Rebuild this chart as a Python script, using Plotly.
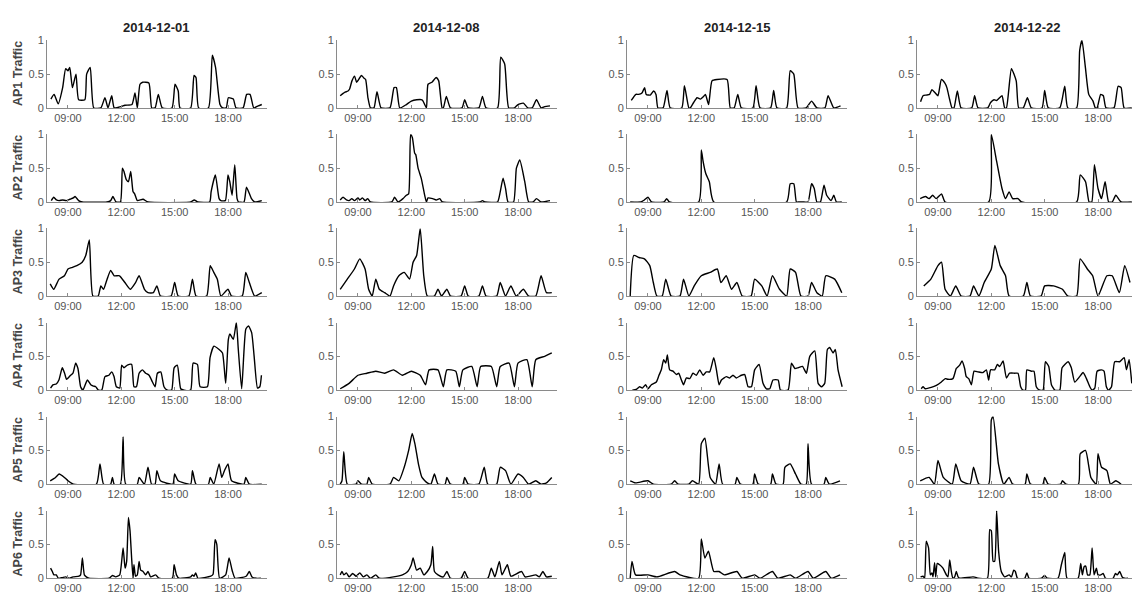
import plotly.graph_objects as go

DATES = ["2014-12-01", "2014-12-08", "2014-12-15", "2014-12-22"]
APS = ["AP1 Traffic", "AP2 Traffic", "AP3 Traffic", "AP4 Traffic", "AP5 Traffic", "AP6 Traffic"]
TICK_HOURS = [9, 12, 15, 18]
TICK_LABELS = ["09:00", "12:00", "15:00", "18:00"]
Y_TICKS = [0, 0.5, 1]
Y_TICK_LABELS = ["0", "0.5", "1"]

# ---- AP1 ----
AP1_1201_T = [8.04, 8.22, 8.45, 8.7, 8.87, 9.0, 9.1, 9.25, 9.45, 9.6, 9.95, 10.05, 10.25, 10.45, 10.85, 11.08, 11.25, 11.46, 11.6, 12.0, 12.2, 12.6, 12.77, 12.9, 13.05, 13.2, 13.55, 13.71, 13.9, 14.08, 14.3, 14.85, 15.02, 15.2, 15.3, 15.9, 16.09, 16.2, 16.35, 16.9, 17.12, 17.3, 17.55, 17.7, 17.9, 18.02, 18.3, 18.45, 18.85, 19.05, 19.24, 19.45, 19.7, 19.9]
AP1_1201_V = [0.13, 0.20, 0.06, 0.3, 0.58, 0.55, 0.6, 0.3, 0.5, 0.12, 0.12, 0.5, 0.6, 0.0, 0.0, 0.15, 0.0, 0.18, 0.0, 0.02, 0.04, 0.05, 0.22, 0.0, 0.35, 0.38, 0.37, 0.0, 0.0, 0.2, 0.0, 0.0, 0.35, 0.25, 0.0, 0.0, 0.48, 0.45, 0.0, 0.0, 0.78, 0.6, 0.05, 0.0, 0.0, 0.15, 0.13, 0.0, 0.0, 0.2, 0.2, 0.0, 0.03, 0.05]
AP1_1208_T = [8.0, 8.25, 8.44, 8.53, 8.66, 8.81, 8.92, 9.06, 9.19, 9.34, 9.43, 9.56, 9.7, 9.9, 10.07, 10.3, 10.8, 11.03, 11.16, 11.35, 11.72, 12.0, 12.3, 12.6, 12.66, 12.85, 12.94, 13.16, 13.4, 13.54, 13.73, 13.8, 13.97, 14.2, 14.85, 15.0, 15.2, 15.8, 16.0, 16.2, 16.85, 17.03, 17.25, 17.48, 17.8, 18.0, 18.3, 18.55, 18.8, 19.04, 19.3, 19.5, 19.8]
AP1_1208_V = [0.18, 0.23, 0.25, 0.28, 0.4, 0.47, 0.38, 0.43, 0.48, 0.44, 0.42, 0.15, 0.0, 0.0, 0.24, 0.0, 0.0, 0.3, 0.3, 0.0, 0.05, 0.1, 0.12, 0.12, 0.1, 0.0, 0.35, 0.38, 0.45, 0.4, 0.0, 0.0, 0.17, 0.0, 0.0, 0.12, 0.0, 0.0, 0.17, 0.0, 0.0, 0.75, 0.65, 0.0, 0.0, 0.05, 0.07, 0.0, 0.0, 0.12, 0.0, 0.02, 0.03]
AP1_1215_T = [8.06, 8.32, 8.47, 8.66, 8.81, 8.9, 9.13, 9.32, 9.45, 9.56, 9.85, 10.07, 10.25, 10.9, 11.05, 11.3, 11.38, 11.57, 11.76, 11.95, 12.13, 12.23, 12.41, 12.6, 12.88, 13.45, 13.63, 13.85, 14.05, 14.25, 14.9, 15.08, 15.3, 15.9, 16.07, 16.25, 16.8, 17.0, 17.2, 17.44, 17.9, 18.2, 18.5, 18.95, 19.13, 19.45, 19.83]
AP1_1215_V = [0.11, 0.2, 0.2, 0.22, 0.3, 0.2, 0.19, 0.25, 0.2, 0.0, 0.0, 0.26, 0.0, 0.0, 0.33, 0.0, 0.0, 0.08, 0.15, 0.13, 0.17, 0.2, 0.05, 0.4, 0.42, 0.42, 0.0, 0.0, 0.2, 0.0, 0.0, 0.33, 0.0, 0.0, 0.26, 0.0, 0.0, 0.55, 0.5, 0.0, 0.0, 0.1, 0.0, 0.0, 0.18, 0.0, 0.03]
AP1_1222_T = [8.02, 8.16, 8.34, 8.53, 8.66, 8.85, 9.0, 9.19, 9.38, 9.5, 9.66, 9.79, 9.9, 10.09, 10.3, 10.9, 11.06, 11.25, 11.8, 11.96, 12.15, 12.3, 12.6, 12.75, 12.85, 13.13, 13.4, 13.54, 13.8, 14.03, 14.25, 14.85, 15.0, 15.2, 15.85, 16.13, 16.3, 16.8, 16.97, 17.1, 17.29, 17.48, 17.72, 17.85, 17.95, 18.15, 18.3, 18.45, 18.9, 19.13, 19.3, 19.47, 19.9]
AP1_1222_V = [0.09, 0.18, 0.19, 0.2, 0.27, 0.22, 0.18, 0.42, 0.37, 0.3, 0.12, 0.0, 0.0, 0.25, 0.0, 0.0, 0.18, 0.0, 0.0, 0.08, 0.12, 0.11, 0.18, 0.0, 0.0, 0.58, 0.4, 0.0, 0.0, 0.15, 0.0, 0.0, 0.26, 0.0, 0.0, 0.32, 0.0, 0.0, 0.85, 1.0, 0.6, 0.2, 0.1, 0.0, 0.0, 0.2, 0.18, 0.0, 0.0, 0.32, 0.3, 0.0, 0.0]

# ---- AP2 ----
AP2_1201_T = [8.06, 8.2, 8.35, 8.5, 8.7, 8.9, 9.1, 9.3, 9.4, 9.6, 9.8, 11.2, 11.4, 11.53, 11.7, 11.95, 12.06, 12.15, 12.28, 12.4, 12.53, 12.66, 12.75, 12.9, 13.22, 13.5, 15.9, 16.1, 16.3, 16.97, 17.05, 17.29, 17.5, 17.6, 17.85, 18.0, 18.1, 18.23, 18.38, 18.51, 18.6, 18.9, 19.04, 19.32, 19.5, 19.9]
AP2_1201_V = [0.02, 0.07, 0.03, 0.02, 0.03, 0.02, 0.04, 0.06, 0.08, 0.02, 0.0, 0.0, 0.02, 0.08, 0.0, 0.0, 0.5, 0.45, 0.33, 0.3, 0.45, 0.15, 0.12, 0.02, 0.04, 0.0, 0.0, 0.03, 0.0, 0.0, 0.15, 0.4, 0.05, 0.02, 0.02, 0.4, 0.3, 0.1, 0.55, 0.05, 0.0, 0.0, 0.22, 0.05, 0.0, 0.02]
AP2_1208_T = [8.0, 8.16, 8.35, 8.5, 8.65, 8.8, 9.0, 9.1, 9.25, 9.4, 9.55, 9.7, 10.9, 11.06, 11.25, 11.53, 11.72, 11.85, 11.96, 12.06, 12.19, 12.25, 12.38, 12.56, 12.75, 12.85, 12.94, 13.2, 13.4, 13.6, 13.75, 15.85, 16.0, 16.15, 16.85, 17.0, 17.16, 17.3, 17.44, 17.75, 17.91, 18.1, 18.38, 18.6, 18.85, 19.04, 19.3, 19.8]
AP2_1208_V = [0.03, 0.07, 0.03, 0.02, 0.05, 0.02, 0.06, 0.03, 0.06, 0.02, 0.05, 0.0, 0.0, 0.07, 0.0, 0.05, 0.1, 0.12, 1.0, 0.95, 0.72, 0.7, 0.5, 0.35, 0.1, 0.0, 0.06, 0.05, 0.03, 0.05, 0.0, 0.0, 0.02, 0.0, 0.0, 0.15, 0.35, 0.2, 0.0, 0.0, 0.5, 0.62, 0.3, 0.0, 0.0, 0.05, 0.0, 0.02]
AP2_1215_T = [8.0, 8.6, 8.8, 9.0, 9.2, 9.9, 10.05, 10.2, 11.85, 12.0, 12.1, 12.25, 12.45, 12.7, 16.8, 17.0, 17.2, 17.35, 17.5, 17.7, 18.0, 18.2, 18.35, 18.5, 18.7, 18.9, 19.05, 19.3, 19.45, 19.6, 19.9]
AP2_1215_V = [0.0, 0.0, 0.03, 0.07, 0.0, 0.0, 0.05, 0.0, 0.0, 0.77, 0.6, 0.42, 0.3, 0.0, 0.0, 0.27, 0.27, 0.0, 0.0, 0.0, 0.0, 0.27, 0.2, 0.0, 0.0, 0.25, 0.1, 0.02, 0.1, 0.0, 0.0]
AP2_1222_T = [8.0, 8.3, 8.5, 8.7, 8.9, 9.2, 9.4, 11.85, 12.0, 12.3, 12.6, 12.8, 13.0, 13.2, 13.5, 13.7, 16.8, 17.0, 17.3, 17.5, 17.65, 17.8, 18.0, 18.2, 18.4, 18.6, 18.8, 19.0, 19.3, 19.9]
AP2_1222_V = [0.05, 0.08, 0.05, 0.1, 0.05, 0.12, 0.0, 0.0, 1.0, 0.6, 0.2, 0.05, 0.15, 0.05, 0.05, 0.0, 0.0, 0.4, 0.3, 0.0, 0.0, 0.55, 0.2, 0.05, 0.3, 0.0, 0.0, 0.1, 0.0, 0.0]

# ---- AP3 ----
AP3_1201_T = [8.0, 8.2, 8.5, 8.8, 9.0, 9.2, 9.5, 9.8, 10.0, 10.2, 10.4, 10.7, 10.85, 11.0, 11.2, 11.4, 11.6, 11.9, 12.2, 12.5, 12.8, 13.0, 13.3, 13.5, 13.8, 14.0, 14.2, 14.8, 15.0, 15.2, 15.8, 16.0, 16.2, 16.8, 17.0, 17.2, 17.4, 17.6, 18.0, 18.2, 18.8, 19.0, 19.2, 19.5, 19.9]
AP3_1201_V = [0.18, 0.1, 0.25, 0.3, 0.4, 0.42, 0.45, 0.5, 0.6, 0.83, 0.0, 0.0, 0.15, 0.1, 0.25, 0.38, 0.3, 0.3, 0.2, 0.1, 0.2, 0.3, 0.1, 0.05, 0.05, 0.15, 0.0, 0.0, 0.2, 0.0, 0.0, 0.25, 0.0, 0.0, 0.45, 0.35, 0.25, 0.0, 0.1, 0.0, 0.0, 0.35, 0.2, 0.0, 0.05]
AP3_1208_T = [8.0, 8.4, 8.8, 9.1, 9.4, 9.6, 9.8, 10.0, 10.2, 10.5, 10.8, 11.0, 11.3, 11.6, 11.9, 12.1, 12.3, 12.5, 12.7, 12.9, 13.3, 13.5, 13.7, 14.0, 14.2, 14.8, 15.0, 15.2, 15.8, 16.0, 16.2, 16.8, 17.0, 17.3, 17.6, 17.9, 18.3, 18.6, 19.0, 19.3, 19.6, 19.9]
AP3_1208_V = [0.1, 0.25, 0.4, 0.55, 0.4, 0.1, 0.0, 0.25, 0.1, 0.05, 0.0, 0.15, 0.3, 0.35, 0.25, 0.5, 0.6, 1.0, 0.3, 0.0, 0.0, 0.1, 0.0, 0.1, 0.0, 0.0, 0.15, 0.0, 0.0, 0.15, 0.0, 0.0, 0.2, 0.0, 0.15, 0.0, 0.1, 0.0, 0.0, 0.3, 0.05, 0.05]
AP3_1215_T = [8.0, 8.2, 8.5, 8.8, 9.1, 9.3, 9.5, 9.8, 10.0, 10.3, 10.8, 11.0, 11.3, 11.6, 12.0, 12.5, 12.9, 13.1, 13.4, 13.7, 14.0, 14.3, 14.8, 15.0, 15.4, 15.7, 16.0, 16.4, 16.8, 17.0, 17.3, 17.6, 18.0, 18.2, 18.5, 18.8, 19.0, 19.5, 19.9]
AP3_1215_V = [0.0, 0.6, 0.57, 0.55, 0.45, 0.2, 0.0, 0.0, 0.25, 0.0, 0.0, 0.25, 0.0, 0.15, 0.3, 0.35, 0.4, 0.2, 0.3, 0.1, 0.2, 0.0, 0.0, 0.25, 0.15, 0.0, 0.3, 0.1, 0.0, 0.4, 0.35, 0.0, 0.0, 0.2, 0.05, 0.0, 0.3, 0.25, 0.05]
AP3_1222_T = [8.2, 8.6, 9.0, 9.2, 9.4, 9.7, 10.0, 10.3, 10.8, 11.0, 11.3, 11.6, 12.0, 12.2, 12.5, 12.8, 13.0, 13.8, 14.0, 14.2, 14.8, 15.0, 15.5, 16.0, 16.3, 16.8, 17.0, 17.4, 17.7, 18.0, 18.5, 18.8, 19.2, 19.5, 19.8]
AP3_1222_V = [0.15, 0.25, 0.45, 0.5, 0.1, 0.0, 0.15, 0.0, 0.0, 0.15, 0.0, 0.2, 0.4, 0.75, 0.45, 0.3, 0.0, 0.0, 0.2, 0.0, 0.0, 0.15, 0.15, 0.1, 0.0, 0.0, 0.55, 0.4, 0.3, 0.0, 0.3, 0.3, 0.05, 0.45, 0.2]

# ---- AP4 ----
AP4_1201_T = [8.02, 8.17, 8.34, 8.49, 8.68, 8.81, 8.92, 9.15, 9.28, 9.43, 9.56, 9.71, 9.84, 10.09, 10.28, 10.43, 10.56, 10.71, 10.9, 11.08, 11.3, 11.46, 11.59, 11.72, 11.91, 12.02, 12.15, 12.34, 12.58, 12.71, 12.85, 13.0, 13.18, 13.37, 13.56, 13.75, 13.9, 14.03, 14.22, 14.4, 14.59, 14.83, 14.97, 15.15, 15.34, 15.53, 15.9, 16.04, 16.28, 16.43, 16.84, 16.99, 17.21, 17.5, 17.69, 17.87, 18.02, 18.11, 18.3, 18.47, 18.58, 18.77, 19.0, 19.15, 19.33, 19.47, 19.66, 19.79, 19.88]
AP4_1201_V = [0.03, 0.08, 0.09, 0.15, 0.33, 0.25, 0.16, 0.22, 0.25, 0.4, 0.32, 0.05, 0.0, 0.15, 0.08, 0.06, 0.05, 0.0, 0.0, 0.2, 0.22, 0.27, 0.2, 0.05, 0.03, 0.37, 0.33, 0.37, 0.38, 0.05, 0.05, 0.25, 0.3, 0.25, 0.22, 0.12, 0.05, 0.25, 0.27, 0.05, 0.0, 0.0, 0.33, 0.37, 0.02, 0.0, 0.0, 0.4, 0.38, 0.05, 0.05, 0.48, 0.65, 0.6, 0.55, 0.1, 0.75, 0.83, 0.75, 1.0, 0.6, 0.02, 0.9, 0.95, 0.85, 0.5, 0.03, 0.05, 0.22]
AP4_1208_T = [8.0, 8.5, 9.0, 9.5, 10.0, 10.5, 11.0, 11.5, 12.0, 12.5, 12.8, 13.0, 13.5, 13.8, 14.0, 14.5, 14.7, 14.9, 15.4, 15.7, 15.9, 16.5, 16.8, 17.0, 17.5, 17.8, 18.0, 18.5, 18.8, 19.0, 19.5, 19.9]
AP4_1208_V = [0.02, 0.1, 0.22, 0.25, 0.28, 0.25, 0.3, 0.22, 0.28, 0.22, 0.08, 0.3, 0.3, 0.05, 0.3, 0.28, 0.05, 0.3, 0.35, 0.05, 0.35, 0.35, 0.05, 0.35, 0.4, 0.05, 0.4, 0.45, 0.05, 0.45, 0.5, 0.55]
AP4_1215_T = [8.12, 8.34, 8.53, 8.68, 8.87, 9.0, 9.19, 9.47, 9.62, 9.75, 9.88, 10.0, 10.09, 10.22, 10.41, 10.6, 10.73, 10.88, 11.0, 11.16, 11.35, 11.53, 11.72, 11.91, 12.1, 12.28, 12.47, 12.7, 12.85, 13.0, 13.13, 13.41, 13.6, 13.78, 13.97, 14.25, 14.44, 14.63, 14.82, 15.0, 15.25, 15.47, 15.66, 15.85, 16.03, 16.32, 16.45, 16.88, 17.07, 17.26, 17.44, 17.69, 17.91, 18.1, 18.38, 18.57, 18.76, 18.94, 19.09, 19.22, 19.41, 19.54, 19.69, 19.92]
AP4_1215_V = [0.0, 0.01, 0.05, 0.03, 0.08, 0.02, 0.08, 0.12, 0.22, 0.3, 0.45, 0.4, 0.52, 0.3, 0.28, 0.23, 0.25, 0.15, 0.08, 0.18, 0.17, 0.25, 0.22, 0.3, 0.22, 0.27, 0.27, 0.48, 0.3, 0.08, 0.15, 0.2, 0.18, 0.22, 0.18, 0.22, 0.23, 0.05, 0.05, 0.3, 0.38, 0.1, 0.02, 0.02, 0.15, 0.15, 0.0, 0.0, 0.4, 0.32, 0.33, 0.35, 0.25, 0.5, 0.58, 0.1, 0.05, 0.1, 0.6, 0.63, 0.55, 0.6, 0.3, 0.05]
AP4_1222_T = [8.06, 8.16, 8.29, 8.62, 8.91, 9.19, 9.41, 9.56, 9.84, 10.03, 10.22, 10.35, 10.5, 10.59, 10.73, 10.88, 11.03, 11.25, 11.53, 11.72, 11.85, 11.96, 12.19, 12.34, 12.47, 12.66, 12.85, 13.03, 13.32, 13.5, 13.65, 13.78, 13.92, 14.0, 14.25, 14.4, 14.53, 14.72, 14.91, 15.04, 15.23, 15.38, 15.57, 15.85, 15.98, 16.32, 16.5, 16.69, 16.97, 17.16, 17.35, 17.54, 17.67, 17.82, 17.95, 18.19, 18.34, 18.47, 18.6, 18.76, 18.94, 19.22, 19.47, 19.6, 19.75, 19.9]
AP4_1222_V = [0.02, 0.05, 0.02, 0.04, 0.07, 0.12, 0.17, 0.16, 0.17, 0.32, 0.37, 0.43, 0.32, 0.2, 0.17, 0.08, 0.28, 0.27, 0.26, 0.3, 0.15, 0.3, 0.3, 0.38, 0.35, 0.43, 0.18, 0.25, 0.25, 0.25, 0.05, 0.0, 0.0, 0.3, 0.28, 0.28, 0.05, 0.0, 0.0, 0.42, 0.35, 0.08, 0.0, 0.0, 0.33, 0.42, 0.33, 0.12, 0.2, 0.26, 0.17, 0.05, 0.0, 0.03, 0.28, 0.3, 0.28, 0.05, 0.0, 0.05, 0.42, 0.42, 0.48, 0.3, 0.45, 0.1]

# ---- AP5 ----
AP5_1201_T = [8.0, 8.3, 8.5, 8.8, 9.0, 9.3, 10.6, 10.8, 11.0, 11.4, 11.5, 11.6, 11.95, 12.1, 12.25, 12.9, 13.0, 13.3, 13.5, 13.7, 13.9, 14.0, 14.2, 14.9, 15.0, 15.2, 15.9, 16.0, 16.2, 16.9, 17.0, 17.2, 17.5, 17.65, 17.8, 18.0, 18.2, 18.9, 19.0, 19.2, 19.9]
AP5_1201_V = [0.05, 0.1, 0.15, 0.1, 0.05, 0.0, 0.0, 0.3, 0.0, 0.0, 0.1, 0.0, 0.0, 0.7, 0.0, 0.0, 0.1, 0.0, 0.25, 0.0, 0.0, 0.2, 0.05, 0.0, 0.15, 0.05, 0.0, 0.2, 0.0, 0.0, 0.1, 0.0, 0.3, 0.1, 0.2, 0.3, 0.05, 0.0, 0.1, 0.0, 0.0]
AP5_1208_T = [8.0, 8.1, 8.2, 8.4, 8.9, 9.0, 9.2, 9.5, 9.6, 9.8, 10.8, 11.0, 11.3, 11.6, 11.85, 12.05, 12.2, 12.4, 12.6, 12.9, 13.1, 13.3, 13.5, 13.9, 14.0, 14.2, 14.9, 15.0, 15.2, 15.8, 16.1, 16.3, 16.8, 17.0, 17.3, 17.6, 18.0, 18.3, 18.6, 19.0, 19.3, 19.6, 19.9]
AP5_1208_V = [0.0, 0.05, 0.48, 0.0, 0.0, 0.05, 0.0, 0.0, 0.1, 0.0, 0.0, 0.1, 0.05, 0.25, 0.5, 0.75, 0.6, 0.3, 0.1, 0.02, 0.0, 0.15, 0.0, 0.0, 0.1, 0.0, 0.0, 0.1, 0.0, 0.0, 0.25, 0.0, 0.0, 0.25, 0.2, 0.0, 0.15, 0.1, 0.0, 0.05, 0.0, 0.02, 0.1]
AP5_1215_T = [8.0, 8.3, 9.0, 9.3, 10.3, 10.5, 10.7, 11.3, 11.5, 11.85, 12.0, 12.2, 12.5, 12.8, 13.0, 13.2, 13.9, 14.0, 14.2, 14.9, 15.0, 15.2, 15.9, 16.0, 16.2, 16.6, 16.7, 17.0, 17.3, 17.6, 17.9, 18.0, 18.2, 18.9, 19.0, 19.2, 19.8]
AP5_1215_V = [0.05, 0.02, 0.05, 0.0, 0.0, 0.05, 0.0, 0.0, 0.05, 0.0, 0.6, 0.68, 0.1, 0.0, 0.3, 0.0, 0.0, 0.1, 0.0, 0.0, 0.15, 0.0, 0.0, 0.15, 0.0, 0.0, 0.25, 0.3, 0.15, 0.0, 0.0, 0.6, 0.0, 0.0, 0.1, 0.0, 0.05]
AP5_1222_T = [8.0, 8.5, 8.8, 9.0, 9.3, 9.8, 10.0, 10.3, 10.8, 11.0, 11.3, 11.85, 12.0, 12.1, 12.4, 12.7, 13.0, 13.2, 13.9, 14.0, 14.2, 14.9, 15.0, 15.2, 15.9, 16.0, 16.2, 16.9, 17.0, 17.3, 17.6, 17.9, 18.0, 18.2, 18.5, 18.7, 19.0, 19.3]
AP5_1222_V = [0.05, 0.1, 0.0, 0.35, 0.1, 0.0, 0.3, 0.05, 0.0, 0.25, 0.0, 0.0, 0.95, 1.0, 0.3, 0.0, 0.1, 0.0, 0.0, 0.15, 0.0, 0.0, 0.1, 0.0, 0.0, 0.05, 0.0, 0.0, 0.45, 0.5, 0.1, 0.0, 0.45, 0.25, 0.2, 0.0, 0.05, 0.0]

# ---- AP6 ----
AP6_1201_T = [8.02, 8.12, 8.21, 8.34, 8.46, 8.68, 8.87, 9.09, 9.28, 9.62, 9.71, 9.81, 9.92, 10.03, 10.18, 11.31, 11.5, 11.68, 11.91, 12.1, 12.21, 12.3, 12.4, 12.49, 12.58, 12.66, 12.71, 12.8, 12.9, 13.0, 13.09, 13.22, 13.37, 13.5, 13.65, 13.93, 14.12, 14.87, 14.97, 15.1, 15.24, 15.9, 16.0, 16.09, 16.18, 16.31, 17.03, 17.16, 17.27, 17.37, 17.53, 17.87, 18.06, 18.25, 18.4, 19.02, 19.2, 19.35, 19.57, 19.85]
AP6_1201_V = [0.15, 0.1, 0.05, 0.05, 0.0, 0.01, 0.02, 0.0, 0.02, 0.03, 0.05, 0.3, 0.05, 0.02, 0.0, 0.0, 0.04, 0.02, 0.05, 0.45, 0.15, 0.25, 0.9, 0.7, 0.3, 0.0, 0.2, 0.03, 0.05, 0.25, 0.12, 0.1, 0.05, 0.1, 0.02, 0.05, 0.0, 0.0, 0.2, 0.05, 0.0, 0.02, 0.05, 0.03, 0.08, 0.0, 0.03, 0.06, 0.57, 0.5, 0.0, 0.05, 0.3, 0.1, 0.0, 0.03, 0.1, 0.02, 0.0, 0.0]
AP6_1208_T = [8.0, 8.1, 8.2, 8.35, 8.5, 8.7, 8.9, 9.1, 9.3, 9.5, 9.7, 10.0, 10.2, 11.0, 11.5, 11.8, 12.0, 12.1, 12.3, 12.5, 12.7, 12.9, 13.1, 13.2, 13.3, 13.5, 13.8, 14.0, 14.2, 14.8, 15.0, 15.2, 16.3, 16.5, 16.7, 16.95, 17.1, 17.4, 17.6, 18.2, 18.4, 19.0, 19.2, 19.4, 19.6, 19.9]
AP6_1208_V = [0.05, 0.1, 0.05, 0.08, 0.02, 0.07, 0.03, 0.08, 0.02, 0.05, 0.0, 0.05, 0.0, 0.02, 0.05, 0.1, 0.2, 0.3, 0.12, 0.15, 0.05, 0.1, 0.2, 0.47, 0.1, 0.05, 0.02, 0.1, 0.0, 0.0, 0.1, 0.0, 0.0, 0.15, 0.02, 0.25, 0.05, 0.2, 0.03, 0.1, 0.02, 0.05, 0.02, 0.1, 0.02, 0.03]
AP6_1215_T = [8.0, 8.1, 8.3, 9.0, 9.5, 10.5, 10.8, 11.85, 12.0, 12.2, 12.4, 12.7, 13.0, 13.3, 14.0, 14.3, 15.0, 15.3, 16.0, 16.3, 17.0, 17.3, 18.0, 18.3, 19.0, 19.3, 19.8]
AP6_1215_V = [0.0, 0.25, 0.05, 0.05, 0.02, 0.1, 0.05, 0.0, 0.58, 0.3, 0.4, 0.1, 0.1, 0.05, 0.1, 0.0, 0.05, 0.0, 0.1, 0.0, 0.05, 0.0, 0.1, 0.0, 0.1, 0.0, 0.05]
AP6_1222_T = [8.02, 8.16, 8.25, 8.34, 8.47, 8.57, 8.66, 8.72, 8.81, 8.87, 8.96, 9.09, 9.28, 9.47, 9.56, 9.66, 9.75, 9.84, 9.94, 10.03, 10.13, 10.22, 10.97, 11.16, 11.25, 11.78, 11.91, 12.0, 12.1, 12.19, 12.3, 12.41, 12.56, 12.75, 13.0, 13.13, 13.26, 13.35, 13.47, 13.88, 14.0, 14.12, 14.82, 15.0, 15.15, 15.75, 15.94, 16.13, 16.26, 16.88, 17.03, 17.12, 17.22, 17.31, 17.41, 17.54, 17.67, 17.78, 17.91, 18.0, 18.16, 18.29, 18.42, 18.85, 18.98, 19.09, 19.22, 19.36, 19.5, 19.69]
AP6_1222_V = [0.02, 0.03, 0.0, 0.55, 0.45, 0.05, 0.08, 0.02, 0.23, 0.02, 0.22, 0.2, 0.15, 0.05, 0.02, 0.27, 0.1, 0.0, 0.02, 0.1, 0.02, 0.0, 0.02, 0.01, 0.0, 0.0, 0.72, 0.7, 0.25, 0.25, 1.0, 0.4, 0.1, 0.02, 0.05, 0.02, 0.12, 0.1, 0.0, 0.0, 0.08, 0.0, 0.0, 0.04, 0.0, 0.0, 0.2, 0.38, 0.0, 0.0, 0.22, 0.05, 0.17, 0.18, 0.05, 0.05, 0.45, 0.05, 0.15, 0.05, 0.05, 0.07, 0.0, 0.0, 0.07, 0.05, 0.1, 0.02, 0.0, 0.0]

SERIES = [
    [(AP1_1201_T, AP1_1201_V), (AP1_1208_T, AP1_1208_V), (AP1_1215_T, AP1_1215_V), (AP1_1222_T, AP1_1222_V)],
    [(AP2_1201_T, AP2_1201_V), (AP2_1208_T, AP2_1208_V), (AP2_1215_T, AP2_1215_V), (AP2_1222_T, AP2_1222_V)],
    [(AP3_1201_T, AP3_1201_V), (AP3_1208_T, AP3_1208_V), (AP3_1215_T, AP3_1215_V), (AP3_1222_T, AP3_1222_V)],
    [(AP4_1201_T, AP4_1201_V), (AP4_1208_T, AP4_1208_V), (AP4_1215_T, AP4_1215_V), (AP4_1222_T, AP4_1222_V)],
    [(AP5_1201_T, AP5_1201_V), (AP5_1208_T, AP5_1208_V), (AP5_1215_T, AP5_1215_V), (AP5_1222_T, AP5_1222_V)],
    [(AP6_1201_T, AP6_1201_V), (AP6_1208_T, AP6_1208_V), (AP6_1215_T, AP6_1215_V), (AP6_1222_T, AP6_1222_V)],
]

W, H = 1132, 597
COL_X0 = [47, 337, 627, 917]
PLOT_W = 220
PX_PER_HOUR = 17.78
X_START = 7.82
ROW_TOP = [35 + 96 * r for r in range(6)]
PLOT_H = 69

FONT = "Liberation Sans, Arial, Helvetica, sans-serif"
AXIS_COLOR = "#8a8a8a"
LABEL_COLOR = "#555555"

fig = go.Figure()
layout = dict(
    width=W, height=H, margin=dict(l=0, r=0, t=0, b=0),
    paper_bgcolor="white", plot_bgcolor="white", showlegend=False,
    font=dict(family=FONT, size=11, color=LABEL_COLOR),
)
annotations = []
k = 0
for r in range(6):
    for c in range(4):
        k += 1
        xname = "xaxis" if k == 1 else f"xaxis{k}"
        yname = "yaxis" if k == 1 else f"yaxis{k}"
        xref = "x" if k == 1 else f"x{k}"
        yref = "y" if k == 1 else f"y{k}"
        x0 = COL_X0[c]
        x1 = min(x0 + PLOT_W, W)
        xend = X_START + (x1 - x0) / PX_PER_HOUR
        t, v = SERIES[r][c]
        fig.add_trace(go.Scatter(x=t, y=v, mode="lines", xaxis=xref, yaxis=yref,
                                 line=dict(color="black", width=1.4, shape="spline", smoothing=0.5),
                                 hoverinfo="skip"))
        layout[xname] = dict(
            domain=[x0 / W, x1 / W], range=[X_START, xend], anchor=yref,
            tickvals=TICK_HOURS, ticktext=TICK_LABELS, ticks="inside", ticklen=3,
            tickcolor=AXIS_COLOR, showline=True, linecolor=AXIS_COLOR, linewidth=1,
            showgrid=False, zeroline=False, tickfont=dict(size=11, color=LABEL_COLOR),
            fixedrange=True,
        )
        top = ROW_TOP[r]
        layout[yname] = dict(
            domain=[1 - (top + PLOT_H) / H, 1 - top / H], range=[0, 1], anchor=xref,
            tickvals=Y_TICKS, ticktext=Y_TICK_LABELS, ticks="inside", ticklen=3,
            tickcolor=AXIS_COLOR, showline=True, linecolor=AXIS_COLOR, linewidth=1,
            showgrid=False, zeroline=False, tickfont=dict(size=11, color=LABEL_COLOR),
            fixedrange=True,
        )
        if r == 0:
            annotations.append(dict(
                text=f"<b>{DATES[c]}</b>", x=(x0 + x0 + PLOT_W) / 2 / W, y=1 - 22 / H,
                xref="paper", yref="paper", showarrow=False, xanchor="center", yanchor="middle",
                font=dict(size=13, color="#222222", family=FONT),
            ))
    annotations.append(dict(
        text=f"<b>{APS[r]}</b>", x=18 / W, y=1 - (ROW_TOP[r] + PLOT_H / 2) / H,
        xref="paper", yref="paper", showarrow=False, textangle=-90,
        xanchor="center", yanchor="middle",
        font=dict(size=12.5, color="#444444", family=FONT),
    ))
layout["annotations"] = annotations
fig.update_layout(**layout)
fig.write_html("out.html")
